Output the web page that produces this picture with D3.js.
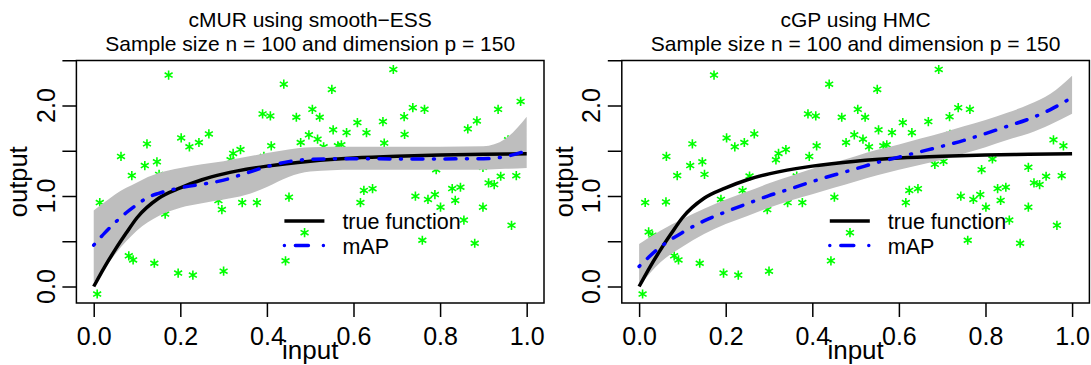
<!DOCTYPE html>
<html>
<head>
<meta charset="utf-8">
<script src="https://cdn.jsdelivr.net/npm/d3@7"></script>
<style>
  body { margin: 0; background: #fff; }
  svg { display: block; font-family: "Liberation Sans", Arial, sans-serif; }
</style>
</head>
<body>
<svg id="chart" width="1091" height="365"></svg>
<script>
// observed data (same sample in both panels)
const ptX = [0.008, 0.014, 0.022, 0.031, 0.062, 0.063, 0.081, 0.088, 0.091, 0.118,
  0.123, 0.140, 0.146, 0.151, 0.165, 0.173, 0.189, 0.195, 0.202, 0.221,
  0.229, 0.239, 0.243, 0.255, 0.266, 0.288, 0.296, 0.300, 0.316, 0.322,
  0.339, 0.343, 0.364, 0.377, 0.390, 0.393, 0.408, 0.410, 0.439, 0.443,
  0.451, 0.468, 0.478, 0.487, 0.497, 0.505, 0.517, 0.522, 0.531, 0.550,
  0.553, 0.564, 0.572, 0.584, 0.609, 0.616, 0.624, 0.630, 0.644, 0.668,
  0.671, 0.683, 0.692, 0.703, 0.717, 0.718, 0.737, 0.743, 0.759, 0.764,
  0.772, 0.788, 0.791, 0.801, 0.816, 0.828, 0.835, 0.847, 0.855, 0.864,
  0.880, 0.885, 0.899, 0.899, 0.912, 0.925, 0.934, 0.940, 0.957, 0.965,
  0.976, 0.980, 0.986];
const ptY = [-0.083, 0.928, 0.603, 0.566, 0.935, 1.437, 0.339, 1.226, 0.294, 1.336,
  1.576, 0.257, 1.378, 1.239, 0.800, 2.336, 0.962, 0.148, 1.642, 1.543,
  0.126, 1.060, 1.591, 1.220, 1.686, 0.950, 0.850, 0.169, 1.400, 1.470,
  1.513, 0.927, 1.220, 0.927, 1.907, 1.437, 1.885, 1.555, 2.236, 0.284,
  0.987, 1.870, 1.591, 0.595, 1.676, 1.958, 1.628, 1.870, 1.543, 2.178,
  1.731, 1.555, 1.566, 1.701, 1.811, 0.927, 1.062, 1.700, 1.081, 1.822,
  1.585, 1.350, 2.398, 1.382, 1.877, 1.680, 1.976, 0.998, 0.511, 1.958,
  0.962, 1.016, 1.291, 0.877, 1.409, 1.082, 0.951, 1.097, 0.734, 1.742,
  0.478, 1.830, 0.877, 1.317, 1.145, 1.126, 1.958, 1.218, 1.621, 0.676,
  1.225, 1.555, 2.045];

// true function
const trueX = [0, 0.025, 0.05, 0.075, 0.1, 0.15, 0.2, 0.25, 0.3, 0.4, 0.5, 0.6, 0.7, 0.8, 0.9, 1.0];
const trueY = [0, 0.215, 0.41, 0.59, 0.76, 0.975, 1.09, 1.18, 1.245, 1.33, 1.385, 1.42, 1.44, 1.452, 1.46, 1.468];

// cMUR fit
const murX  = [0, 0.025, 0.05, 0.075, 0.1, 0.125, 0.15, 0.2, 0.25, 0.3, 0.35, 0.4, 0.45, 0.5, 0.6, 0.7, 0.8, 0.9, 0.95, 1.0];
const murMap = [0.457, 0.59, 0.71, 0.815, 0.905, 0.985, 1.03, 1.09, 1.13, 1.175, 1.25, 1.325, 1.38, 1.405, 1.413, 1.41, 1.41, 1.412, 1.435, 1.5];
const murHi = [0.84, 0.93, 1.02, 1.09, 1.15, 1.21, 1.255, 1.31, 1.35, 1.385, 1.43, 1.475, 1.515, 1.54, 1.545, 1.545, 1.545, 1.55, 1.63, 1.877];
const murLo = [0.05, 0.2, 0.36, 0.5, 0.62, 0.71, 0.78, 0.87, 0.92, 0.96, 1.01, 1.10, 1.21, 1.27, 1.29, 1.29, 1.29, 1.29, 1.30, 1.31];

// cGP fit
const gpX  = [0, 0.05, 0.1, 0.15, 0.2, 0.25, 0.3, 0.35, 0.4, 0.45, 0.5, 0.55, 0.6, 0.65, 0.7, 0.75, 0.8, 0.85, 0.9, 0.95, 1.0];
const gpMap = [0.222, 0.44, 0.597, 0.725, 0.825, 0.915, 1.005, 1.08, 1.16, 1.232, 1.30, 1.37, 1.43, 1.49, 1.55, 1.615, 1.69, 1.77, 1.85, 1.955, 2.09];
const gpHi = [0.47, 0.62, 0.745, 0.86, 0.96, 1.05, 1.14, 1.22, 1.30, 1.37, 1.44, 1.51, 1.57, 1.635, 1.70, 1.77, 1.84, 1.92, 2.01, 2.13, 2.33];
const gpLo = [0.0, 0.27, 0.44, 0.58, 0.69, 0.78, 0.87, 0.95, 1.02, 1.09, 1.16, 1.23, 1.29, 1.345, 1.40, 1.47, 1.54, 1.62, 1.69, 1.79, 1.91];

const xTicks = [0, 0.2, 0.4, 0.6, 0.8, 1.0];
const yTicks = [0, 0.5, 1.0, 1.5, 2.0, 2.5];
const yLabels = [0, 1.0, 2.0];
const subtitle = "Sample size n = 100 and dimension p = 150";
const legendLabels = ["true function", "mAP"];

const panels = [
  { left: 76.4, title: "cMUR using smooth\u2212ESS", xs: murX, map: murMap, lo: murLo, hi: murHi },
  { left: 621.8, title: "cGP using HMC", xs: gpX, map: gpMap, lo: gpLo, hi: gpHi }
];

const boxW = 467.6, plotTop = 60.5, plotBottom = 303;
const svg = d3.select("#chart");

// R style 4% padding
function pad(e) { const d = (e[1] - e[0]) * 0.04; return [e[0] - d, e[1] + d]; }
const xDom = pad(d3.extent(trueX.concat(ptX)));
const yDom = pad(d3.extent(ptY));

const star = (r) => {
  const c = r * Math.cos(Math.PI / 6), s = r * Math.sin(Math.PI / 6);
  return `M0,${-r}L0,${r}M${-c},${-s}L${c},${s}M${-c},${s}L${c},${-s}`;
};

panels.forEach(p => {
  const x = d3.scaleLinear().domain(xDom).range([p.left, p.left + boxW]);
  const y = d3.scaleLinear().domain(yDom).range([plotBottom, plotTop]);
  const g = svg.append("g");
  const cx = p.left + boxW / 2;

  g.append("text").attr("x", cx).attr("y", 27).attr("text-anchor", "middle")
    .attr("font-size", 21).text(p.title);
  g.append("text").attr("x", cx).attr("y", 50.5).attr("text-anchor", "middle")
    .attr("font-size", 21).text(subtitle);

  // points
  g.append("g").selectAll("path").data(ptX).join("path")
    .attr("transform", (d, i) => `translate(${x(d)},${y(ptY[i])})`)
    .attr("d", star(4.6))
    .attr("stroke", "#00ff00").attr("stroke-width", 1.6).attr("fill", "none");

  // band
  const area = d3.area().curve(d3.curveMonotoneX)
    .x((d, i) => x(p.xs[i])).y0((d, i) => y(p.lo[i])).y1((d, i) => y(p.hi[i]));
  g.append("path").datum(p.xs).attr("d", area).attr("fill", "#bebebe");

  const line = (xs, ys) => d3.line().curve(d3.curveMonotoneX)
    .x((d, i) => x(xs[i])).y((d, i) => y(ys[i]))(xs);

  g.append("path").attr("d", line(trueX, trueY))
    .attr("fill", "none").attr("stroke", "#000").attr("stroke-width", 3.5);
  g.append("path").attr("d", line(p.xs, p.map))
    .attr("fill", "none").attr("stroke", "#0000ff").attr("stroke-width", 3.5)
    .attr("stroke-linecap", "round").attr("stroke-dasharray", "1 10.5 11 10.5");

  // box
  g.append("rect").attr("x", p.left).attr("y", plotTop)
    .attr("width", boxW).attr("height", plotBottom - plotTop)
    .attr("fill", "none").attr("stroke", "#000").attr("stroke-width", 1.5);

  // axes
  const ax = g.append("g").attr("transform", `translate(0,${plotBottom})`)
    .call(d3.axisBottom(x).tickValues(xTicks).tickSize(14).tickPadding(10)
      .tickFormat(d3.format(".1f")));
  ax.select(".domain").remove();
  ax.selectAll("line").attr("stroke-width", 1.5);
  ax.selectAll("text").attr("font-size", 25).attr("font-family", null).attr("fill", "#000");

  const ay = g.append("g").attr("transform", `translate(${p.left},0)`)
    .call(d3.axisLeft(y).tickValues(yTicks).tickSize(14).tickFormat(""));
  ay.select(".domain").remove();
  ay.selectAll("line").attr("stroke-width", 1.5);
  g.selectAll(".ylab").data(yLabels).join("text")
    .attr("transform", d => `translate(${p.left - 21.5},${y(d)}) rotate(-90)`)
    .attr("text-anchor", "middle").attr("font-size", 25).text(d3.format(".1f"));

  g.append("text").attr("x", cx).attr("y", 359).attr("text-anchor", "middle")
    .attr("font-size", 26).text("input");
  g.append("text").attr("transform", `translate(${p.left - 49},${(plotTop + plotBottom) / 2}) rotate(-90)`)
    .attr("text-anchor", "middle").attr("font-size", 25.5).text("output");

  // legend
  const lg = g.append("g").attr("transform", `translate(${p.left + 208},221)`);
  lg.append("line").attr("x1", 0).attr("x2", 40).attr("y1", 0).attr("y2", 0)
    .attr("stroke", "#000").attr("stroke-width", 3.5);
  lg.append("line").attr("x1", 0).attr("x2", 40).attr("y1", 24.5).attr("y2", 24.5)
    .attr("stroke", "#0000ff").attr("stroke-width", 3.5)
    .attr("stroke-linecap", "round").attr("stroke-dasharray", "0 11 13 15");
  lg.selectAll("text").data(legendLabels).join("text")
    .attr("x", 58).attr("y", (d, i) => 8 + i * 24.5)
    .attr("font-size", 21.5).text(d => d);
});
</script>
</body>
</html>
